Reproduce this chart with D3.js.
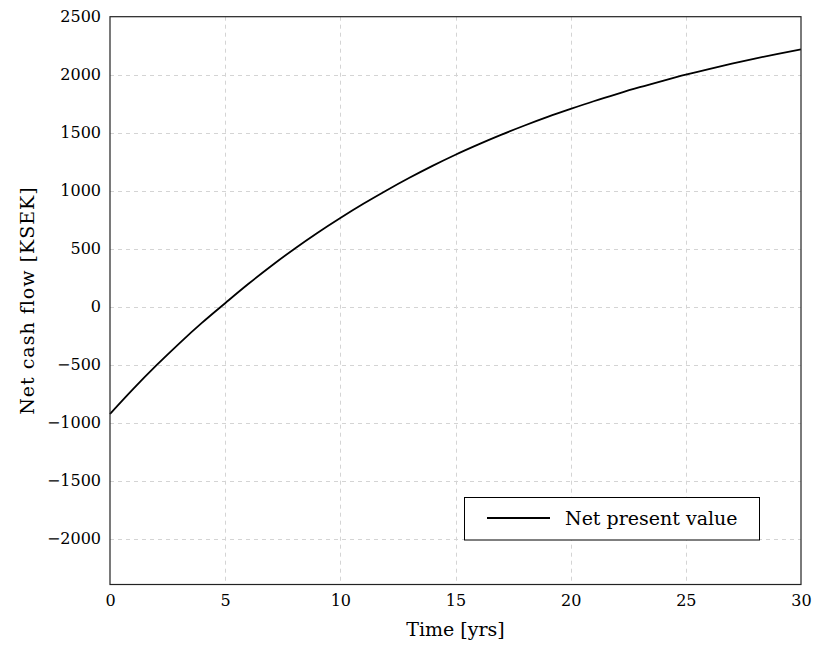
<!DOCTYPE html>
<html>
<head>
<meta charset="utf-8">
<script src="https://cdn.jsdelivr.net/npm/d3@7/dist/d3.min.js"></script>
<style>
  html, body { margin: 0; padding: 0; background: #fff; }
  svg text { font-family: "DejaVu Serif", "Liberation Serif", serif; fill: #000; }
</style>
</head>
<body>
<svg id="chart" width="814" height="650"></svg>
<script>
// Net present value of the investment, year by year (KSEK)
const years = d3.range(0, 31);
const npvValues = [
  -925, -711, -509, -318, -138, 30,
  195, 351, 498, 636, 765,
  887, 1002, 1111, 1214, 1310,
  1399, 1483, 1562, 1636, 1705,
  1771, 1833, 1892, 1947, 2000,
  2049, 2095, 2139, 2180, 2218
];
const xTicks = [0, 5, 10, 15, 20, 25, 30];
const yTicks = [-2000, -1500, -1000, -500, 0, 500, 1000, 1500, 2000, 2500];
const xDomain = [0, 30];
const yDomain = [-2395, 2500];
const seriesName = "Net present value";
const xTitle = "Time [yrs]";
const yTitle = "Net cash flow [KSEK]";

const svg = d3.select("#chart");
const plot = { left: 110, right: 801, top: 16.7, bottom: 584.5 };
const tickFontSize = 16;
const labelFontSize = 19;
const fontFamily = '"DejaVu Serif", "Liberation Serif", serif';

const x = d3.scaleLinear().domain(xDomain).range([plot.left, plot.right]);
const y = d3.scaleLinear().domain(yDomain).range([plot.bottom, plot.top]);

// dashed grid
const grid = svg.append("g").attr("stroke", "#d4d4d4").attr("stroke-width", 1)
  .attr("stroke-dasharray", "4,4");
grid.selectAll("line.vx").data(xTicks.filter(t => t > xDomain[0] && t < xDomain[1]))
  .join("line").attr("class", "vx")
  .attr("x1", d => Math.round(x(d)) + 0.5).attr("x2", d => Math.round(x(d)) + 0.5)
  .attr("y1", plot.top).attr("y2", plot.bottom);
grid.selectAll("line.hy").data(yTicks.filter(t => t > yDomain[0] && t < yDomain[1]))
  .join("line").attr("class", "hy")
  .attr("y1", d => Math.round(y(d)) + 0.5).attr("y2", d => Math.round(y(d)) + 0.5)
  .attr("x1", plot.left).attr("x2", plot.right);

// axes (labels only; frame drawn separately)
const fmt = d => d < 0 ? "\u2212" + Math.abs(d) : String(d);
const xAxis = d3.axisBottom(x).tickValues(xTicks).tickSize(0).tickPadding(10).tickFormat(fmt);
const yAxis = d3.axisLeft(y).tickValues(yTicks).tickSize(0).tickPadding(9).tickFormat(fmt);

const gx = svg.append("g").attr("transform", `translate(0,${plot.bottom})`).call(xAxis);
const gy = svg.append("g").attr("transform", `translate(${plot.left},0)`).call(yAxis);
[gx, gy].forEach(g => {
  g.attr("font-family", fontFamily).attr("font-size", tickFontSize);
  g.select(".domain").remove();
  g.selectAll("text").attr("font-size", tickFontSize).style("font-family", fontFamily);
});

// curve
const line = d3.line()
  .x((d, i) => x(years[i]))
  .y(d => y(d))
  .curve(d3.curveMonotoneX);
svg.append("path").datum(npvValues)
  .attr("fill", "none").attr("stroke", "#000").attr("stroke-width", 1.8)
  .attr("d", line);

// frame
svg.append("rect")
  .attr("x", plot.left).attr("y", plot.top)
  .attr("width", plot.right - plot.left).attr("height", plot.bottom - plot.top)
  .attr("fill", "none").attr("stroke", "#222").attr("stroke-width", 1.2);

// axis titles
svg.append("text")
  .attr("x", (plot.left + plot.right) / 2).attr("y", 636)
  .attr("text-anchor", "middle").attr("font-size", labelFontSize)
  .text(xTitle);
svg.append("text")
  .attr("transform", `translate(34,${(plot.top + plot.bottom) / 2}) rotate(-90)`)
  .attr("text-anchor", "middle").attr("font-size", labelFontSize)
  .attr("letter-spacing", 1)
  .text(yTitle);

// legend
const legend = svg.append("g");
legend.append("rect")
  .attr("x", 464.5).attr("y", 497.5).attr("width", 295).attr("height", 42.5)
  .attr("fill", "#fff").attr("stroke", "#000").attr("stroke-width", 1);
legend.append("line")
  .attr("x1", 487).attr("x2", 550).attr("y1", 518).attr("y2", 518)
  .attr("stroke", "#000").attr("stroke-width", 1.8);
legend.append("text")
  .attr("x", 565).attr("y", 524.5).attr("font-size", labelFontSize)
  .text(seriesName);
</script>
</body>
</html>
